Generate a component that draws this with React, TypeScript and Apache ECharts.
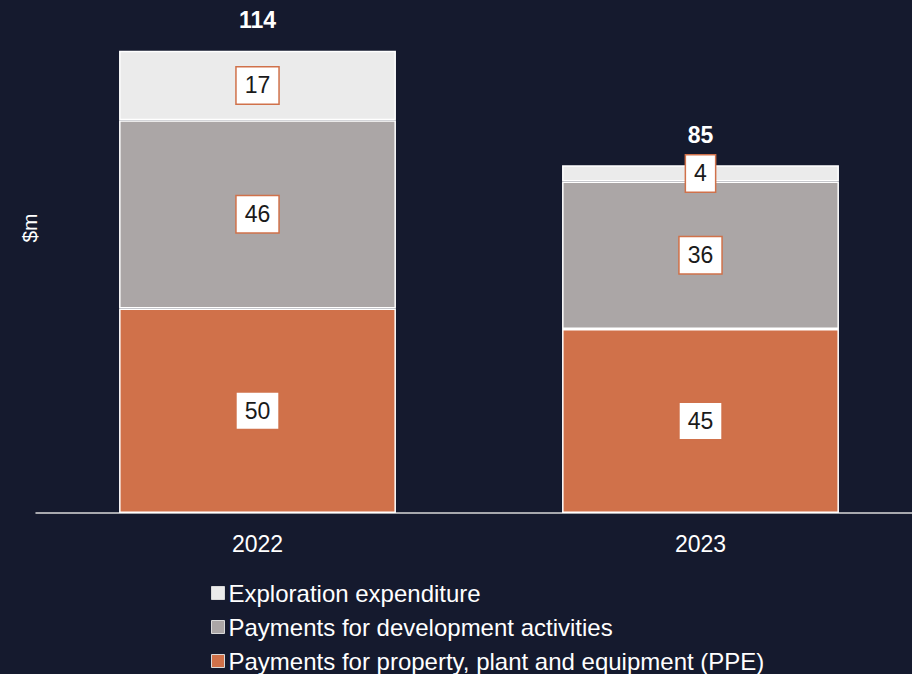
import React, { useEffect, useRef } from "react";
import * as echarts from "echarts";

const categories = ["2022", "2023"];
const ppe = [50, 45];
const development = [46, 36];
const exploration = [17, 4];
const totals = [114, 85];
const seriesNames = [
  "Exploration expenditure",
  "Payments for development activities",
  "Payments for property, plant and equipment (PPE)",
];
const colors = { exploration: "#ebebeb", development: "#aba6a6", ppe: "#d0714a" };
const bg = "#151a2e";
const font = "Liberation Sans, Arial, sans-serif";

export default function App() {
  const ref = useRef<HTMLDivElement>(null);
  useEffect(() => {
    if (!ref.current) return;
    const chart = echarts.init(ref.current, undefined, { renderer: "svg" });
    const segLabel = {
      show: true,
      position: "inside",
      color: "#1a1a1a",
      fontSize: 23,
      fontFamily: font,
      backgroundColor: "#ffffff",
      borderColor: colors.ppe,
      borderWidth: 1.5,
      padding: [7, 8, 6, 8],
    };
    const barCommon = {
      type: "bar",
      stack: "total",
      barWidth: "62.5%",
      itemStyle: { borderColor: "#ffffff", borderWidth: 1.5 },
      label: segLabel,
    };
    chart.setOption({
      animation: false,
      backgroundColor: bg,
      textStyle: { fontFamily: font },
      grid: { left: 36, width: 886, top: 22, bottom: 161 },
      xAxis: {
        type: "category",
        data: categories,
        axisTick: { show: false },
        axisLine: { lineStyle: { color: "#d9d9d9", width: 1.5 } },
        axisLabel: { color: "#ffffff", fontSize: 23, margin: 19, fontFamily: font },
      },
      yAxis: { type: "value", min: 0, max: 120, show: false },
      legend: {
        orient: "vertical",
        left: 211,
        top: 581,
        padding: 0,
        height: 120,
        data: seriesNames,
        icon: "rect",
        itemWidth: 13,
        itemHeight: 13,
        itemGap: 10,
        textStyle: { color: "#ffffff", fontSize: 24, lineHeight: 24, fontFamily: font, padding: [0, 0, 0, -1] },
        itemStyle: { borderColor: "#d9d9d9", borderWidth: 1 },
        selectedMode: false,
      },
      graphic: [
        {
          type: "text",
          x: 29,
          y: 228,
          rotation: Math.PI / 2,
          style: {
            text: "$m",
            fill: "#ffffff",
            fontSize: 21,
            fontFamily: font,
            align: "center",
            verticalAlign: "middle",
          },
        },
      ],
      series: [
        { ...barCommon, name: seriesNames[2], data: ppe, itemStyle: { ...barCommon.itemStyle, color: colors.ppe } },
        { ...barCommon, name: seriesNames[1], data: development, itemStyle: { ...barCommon.itemStyle, color: colors.development } },
        { ...barCommon, name: seriesNames[0], data: exploration, itemStyle: { ...barCommon.itemStyle, color: colors.exploration } },
        {
          type: "bar",
          stack: "total",
          name: "Total",
          barWidth: "62.5%",
          data: totals.map(() => 0),
          itemStyle: { color: "transparent", borderWidth: 0 },
          label: {
            show: true,
            position: "top",
            distance: 19,
            color: "#ffffff",
            fontSize: 23,
            fontWeight: "bold",
            fontFamily: font,
            formatter: (p: any) => String(totals[p.dataIndex]),
          },
        },
      ],
    });
    return () => chart.dispose();
  }, []);
  return (
    <div
      ref={ref}
      style={{ position: "fixed", left: 0, top: 0, width: 930, height: 674 }}
    />
  );
}
